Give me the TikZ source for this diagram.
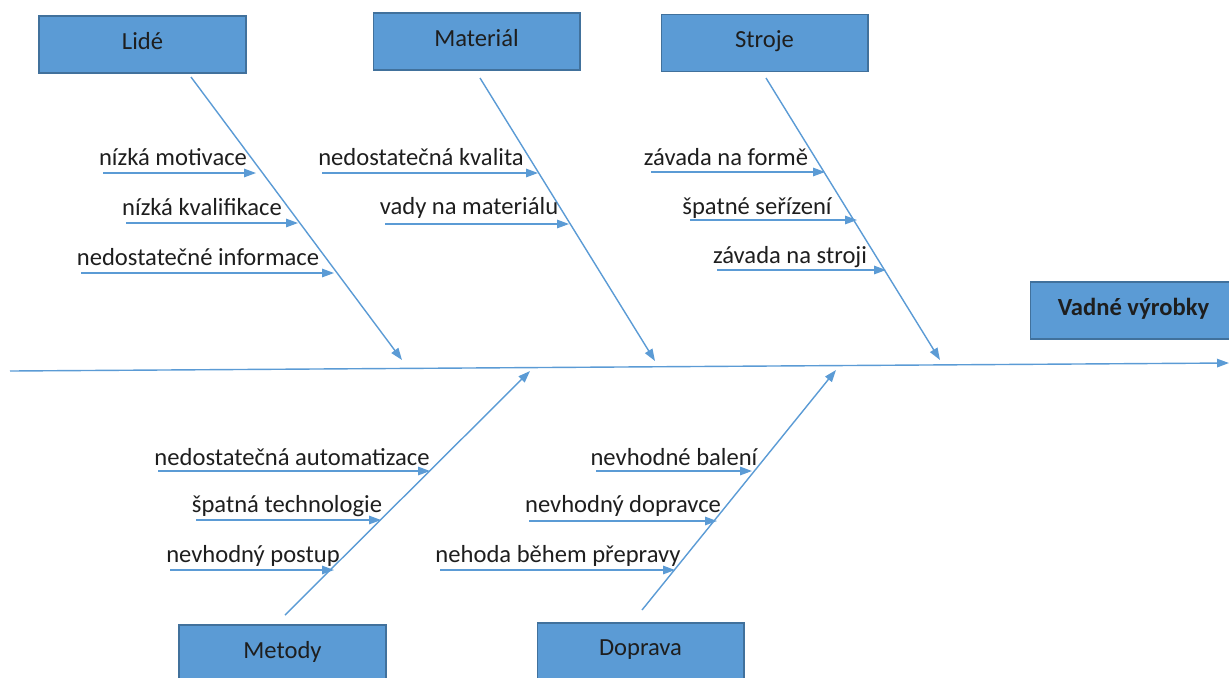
\documentclass[tikz,border=0pt]{standalone}
\usepackage{fontspec}
\setmainfont{Carlito}
\usetikzlibrary{arrows.meta, calc}
\definecolor{BoxBlue}{HTML}{5B9BD5}
\definecolor{BoxEdge}{HTML}{41719C}
\definecolor{LineBlue}{HTML}{5B9BD5}
\definecolor{TextDark}{HTML}{1E1E1E}
\tikzset{
  category/.style={draw=BoxEdge, line width=0.6pt, fill=BoxBlue, minimum width=4.14cm, minimum height=1.14cm, inner sep=0pt, text depth=0.14cm, font=\fontsize{14}{16}\selectfont, text=TextDark},
  effect/.style={category, font=\fontsize{14}{16}\selectfont\bfseries},
  cause/.style={inner sep=0pt, font=\fontsize{14}{16}\selectfont, text=TextDark},
  bone/.style={-{Triangle[length=2.4mm, width=1.7mm]}, line width=0.8pt, draw=LineBlue},
  twig/.style={-{Triangle[length=2.4mm, width=1.7mm]}, line width=0.8pt, draw=LineBlue}
}

\begin{document}
\begin{tikzpicture}[x=0.02cm, y=-0.02cm]
\clip (0,0) rectangle (1229,677);
\useasboundingbox (0,0) rectangle (1229,677);

% categories and effect
\node[category] (lide) at (142.5,44.5) {Lidé};
\node[category] (material) at (476.5,41.5) {Materiál};
\node[category] (stroje) at (764.5,43) {Stroje};
\node[category] (metody) at (282.5,653.5) {Metody};
\node[category] (doprava) at (640.5,651.5) {Doprava};
\node[effect] (vadne) at (1133.5,310.5) {Vadné výrobky};

% spine
\coordinate (spineL) at (10,371);
\coordinate (spineR) at (1229,363);
\draw[bone] (spineL) -- (spineR);

% main bones
\coordinate (lideA) at (191,77);      \coordinate (lideB) at (402,360);
\coordinate (matA) at (480,78);       \coordinate (matB) at (655,361);
\coordinate (strA) at (766,78);       \coordinate (strB) at (940,360);
\coordinate (metA) at (285,615);      \coordinate (metB) at (530,371);
\coordinate (dopA) at (642,610);      \coordinate (dopB) at (836,370);
\draw[bone] (lideA) -- (lideB);
\draw[bone] (matA) -- (matB);
\draw[bone] (strA) -- (strB);
\draw[bone] (metA) -- (metB);
\draw[bone] (dopA) -- (dopB);

% Lidé
\node[cause] (l1) at (173,157) {nízká motivace};
\node[cause] (l2) at (202,207) {nízká kvalifikace};
\node[cause] (l3) at (198,257) {nedostatečné informace};
\coordinate (l1s) at (103,173); \coordinate (l1e) at (256,173);
\coordinate (l2s) at (126,223); \coordinate (l2e) at (298,223);
\coordinate (l3s) at (81,273);  \coordinate (l3e) at (334,273);
\draw[twig] (l1s) -- (l1e);
\draw[twig] (l2s) -- (l2e);
\draw[twig] (l3s) -- (l3e);

% Materiál
\node[cause] (m1) at (421,157) {nedostatečná kvalita};
\node[cause] (m2) at (469,208) {vady na materiálu};
\coordinate (m1s) at (322,173); \coordinate (m1e) at (538,173);
\coordinate (m2s) at (385,224); \coordinate (m2e) at (569,224);
\draw[twig] (m1s) -- (m1e);
\draw[twig] (m2s) -- (m2e);

% Stroje
\node[cause] (s1) at (726,157) {závada na formě};
\node[cause] (s2) at (757,208) {špatné seřízení};
\node[cause] (s3) at (790,257) {závada na stroji};
\coordinate (s1s) at (651,172); \coordinate (s1e) at (825,172);
\coordinate (s2s) at (690,220); \coordinate (s2e) at (857,220);
\coordinate (s3s) at (717,270); \coordinate (s3e) at (886,270);
\draw[twig] (s1s) -- (s1e);
\draw[twig] (s2s) -- (s2e);
\draw[twig] (s3s) -- (s3e);

% Metody
\node[cause] (t1) at (292,457) {nedostatečná automatizace};
\node[cause] (t2) at (287,506) {špatná technologie};
\node[cause] (t3) at (253,556) {nevhodný postup};
\coordinate (t1s) at (158,471); \coordinate (t1e) at (430,471);
\coordinate (t2s) at (196,520); \coordinate (t2e) at (381,520);
\coordinate (t3s) at (170,570); \coordinate (t3e) at (334,570);
\draw[twig] (t1s) -- (t1e);
\draw[twig] (t2s) -- (t2e);
\draw[twig] (t3s) -- (t3e);

% Doprava
\node[cause] (d1) at (674,457) {nevhodné balení};
\node[cause] (d2) at (623,506) {nevhodný dopravce};
\node[cause] (d3) at (558,556) {nehoda během přepravy};
\coordinate (d1s) at (596,471); \coordinate (d1e) at (752,471);
\coordinate (d2s) at (529,521); \coordinate (d2e) at (717,521);
\coordinate (d3s) at (440,570); \coordinate (d3e) at (675,570);
\draw[twig] (d1s) -- (d1e);
\draw[twig] (d2s) -- (d2e);
\draw[twig] (d3s) -- (d3e);
\end{tikzpicture}
\end{document}
